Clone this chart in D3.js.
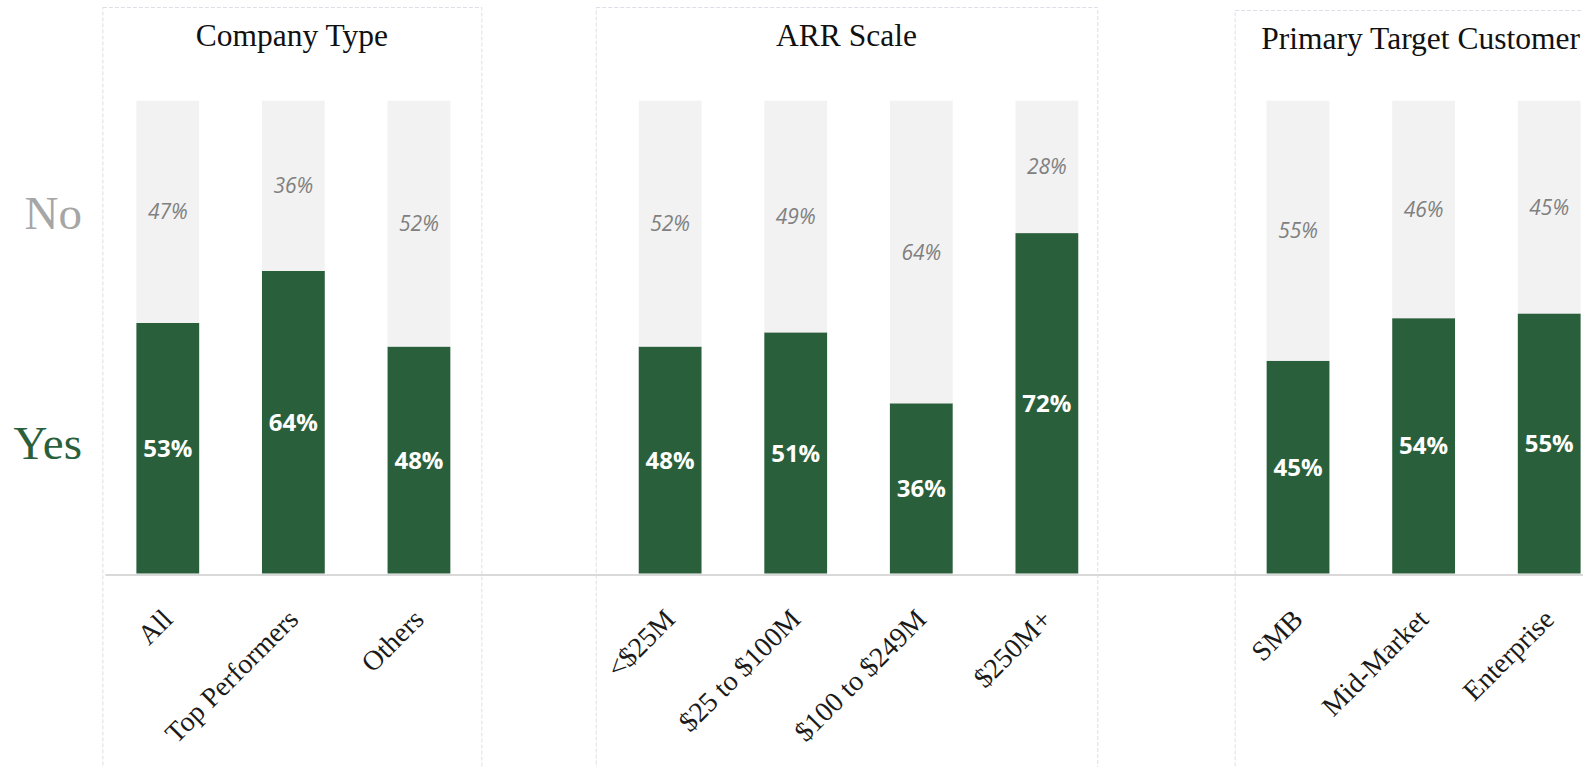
<!DOCTYPE html>
<html>
<head>
<meta charset="utf-8">
<script src="https://cdn.jsdelivr.net/npm/d3@7"></script>
<style>
  body { margin: 0; background: #fff; overflow: hidden; }
  #chart svg { display: block; }
</style>
</head>
<body>
<div id="chart"></div>
<script>
// panel titles
var panelTitles = ["Company Type", "ARR Scale", "Primary Target Customer"];

// categories in each panel
var companyTypes = ["All", "Top Performers", "Others"];
var arrScales = ["<$25M", "$25 to $100M", "$100 to $249M", "$250M+"];
var targetCustomers = ["SMB", "Mid-Market", "Enterprise"];

// share of answers, in percent
var companyYes = [53, 64, 48];
var companyNo = [47, 36, 52];
var arrYes = [48, 51, 36, 72];
var arrNo = [52, 49, 64, 28];
var targetYes = [45, 54, 55];
var targetNo = [55, 46, 45];

var seriesNames = ["Yes", "No"];

drawChart();

function drawChart() {
    var w = 1583;
    var h = 767;

    var panels = [
        { title: panelTitles[0], cats: companyTypes, yes: companyYes, no: companyNo },
        { title: panelTitles[1], cats: arrScales, yes: arrYes, no: arrNo },
        { title: panelTitles[2], cats: targetCustomers, yes: targetYes, no: targetNo }
    ];

    // one band per bar, with an empty band between panels
    var domain = [];
    var rows = [];
    panels.forEach(function(p, pi) {
        if (pi > 0) domain.push("gap" + pi);
        p.cats.forEach(function(c, i) {
            domain.push(c);
            rows.push({ cat: c, Yes: p.yes[i], No: p.no[i], panel: pi });
        });
    });

    var x = d3.scaleBand()
              .domain(domain)
              .range([105, 1612])
              .paddingInner(0.5)
              .paddingOuter(0.25);

    var y = d3.scaleLinear()
              .domain([0, 100])
              .range([573.5, 100.7]);

    var colors = { Yes: "#2a5f3c", No: "#f2f2f2" };

    var svg = d3.select("#chart")
                .append("svg")
                .attr("width", w)
                .attr("height", h);

    // dashed panel frames and titles
    var panelPad = [[34, 31], [43, 19], [32, 26]];
    var panelTop = [7, 7, 10];
    panels.forEach(function(p, pi) {
        var left = x(p.cats[0]) - panelPad[pi][0];
        var right = x(p.cats[p.cats.length - 1]) + x.bandwidth() + panelPad[pi][1];
        svg.append("rect")
           .attr("x", left + 0.5)
           .attr("y", panelTop[pi] + 0.5)
           .attr("width", right - left)
           .attr("height", 900)
           .attr("fill", "none")
           .attr("stroke", "#dcdfe5")
           .attr("stroke-dasharray", "4,2");
        svg.append("text")
           .attr("x", (left + right) / 2)
           .attr("y", panelTop[pi] + 39)
           .attr("text-anchor", "middle")
           .style("font-family", "'Liberation Serif', serif")
           .style("font-size", "31.5px")
           .attr("fill", "#111")
           .text(p.title);
    });

    // stacked bars
    var stack = d3.stack().keys(seriesNames);
    var series = stack(rows);

    svg.append("g")
       .selectAll("g")
       .data(series)
       .enter()
       .append("g")
       .attr("fill", function(d) { return colors[d.key]; })
       .selectAll("rect")
       .data(function(d) { return d; })
       .enter()
       .append("rect")
       .attr("x", function(d) { return x(d.data.cat); })
       .attr("y", function(d) { return y(d[1]); })
       .attr("width", x.bandwidth())
       .attr("height", function(d) { return y(d[0]) - y(d[1]); });

    // value labels
    svg.append("g")
       .selectAll("text")
       .data(series[0])
       .enter()
       .append("text")
       .attr("x", function(d) { return x(d.data.cat) + x.bandwidth() / 2; })
       .attr("y", function(d) { return (y(d[0]) + y(d[1])) / 2; })
       .attr("dy", "0.36em")
       .attr("text-anchor", "middle")
       .style("font-family", "'Open Sans', sans-serif")
       .style("font-weight", "bold")
       .style("font-size", "24px")
       .attr("fill", "#fff")
       .text(function(d) { return d.data.Yes + "%"; });

    svg.append("g")
       .selectAll("text")
       .data(series[1])
       .enter()
       .append("text")
       .attr("x", function(d) { return x(d.data.cat) + x.bandwidth() / 2; })
       .attr("y", function(d) { return (y(d[0]) + y(d[1])) / 2; })
       .attr("dy", "0.36em")
       .attr("text-anchor", "middle")
       .style("font-family", "'Open Sans', sans-serif")
       .style("font-style", "italic")
       .style("font-size", "21px")
       .attr("fill", "#808080")
       .text(function(d) { return d.data.No + "%"; });

    // x axis along the base
    var xAxis = d3.axisBottom(x)
                  .tickSize(0)
                  .tickFormat(function(d) { return d.indexOf("gap") === 0 ? "" : d; });

    var gx = svg.append("g")
                .attr("transform", "translate(0," + (y(0) + 1) + ")")
                .call(xAxis);
    gx.select(".domain")
      .attr("stroke", "#d9d9d9")
      .attr("stroke-width", 2);
    gx.selectAll(".tick text")
      .attr("x", 0)
      .attr("y", 0)
      .attr("dy", 0)
      .attr("transform", "translate(6.5,46.5) rotate(-45)")
      .attr("text-anchor", "end")
      .style("font-family", "'Liberation Serif', serif")
      .style("font-size", "28px")
      .attr("fill", "#1a1a1a");

    // series names on the left
    var seriesLabelPos = { No: 72.8, Yes: 24.2 };
    var seriesLabelColor = { No: "#a6a6a6", Yes: "#2a5f3c" };
    svg.append("g")
       .selectAll("text")
       .data(seriesNames)
       .enter()
       .append("text")
       .attr("x", 82)
       .attr("y", function(d) { return y(seriesLabelPos[d]); })
       .attr("text-anchor", "end")
       .style("font-family", "'Liberation Serif', serif")
       .style("font-size", "47px")
       .attr("fill", function(d) { return seriesLabelColor[d]; })
       .text(function(d) { return d; });
}
</script>
</body>
</html>
